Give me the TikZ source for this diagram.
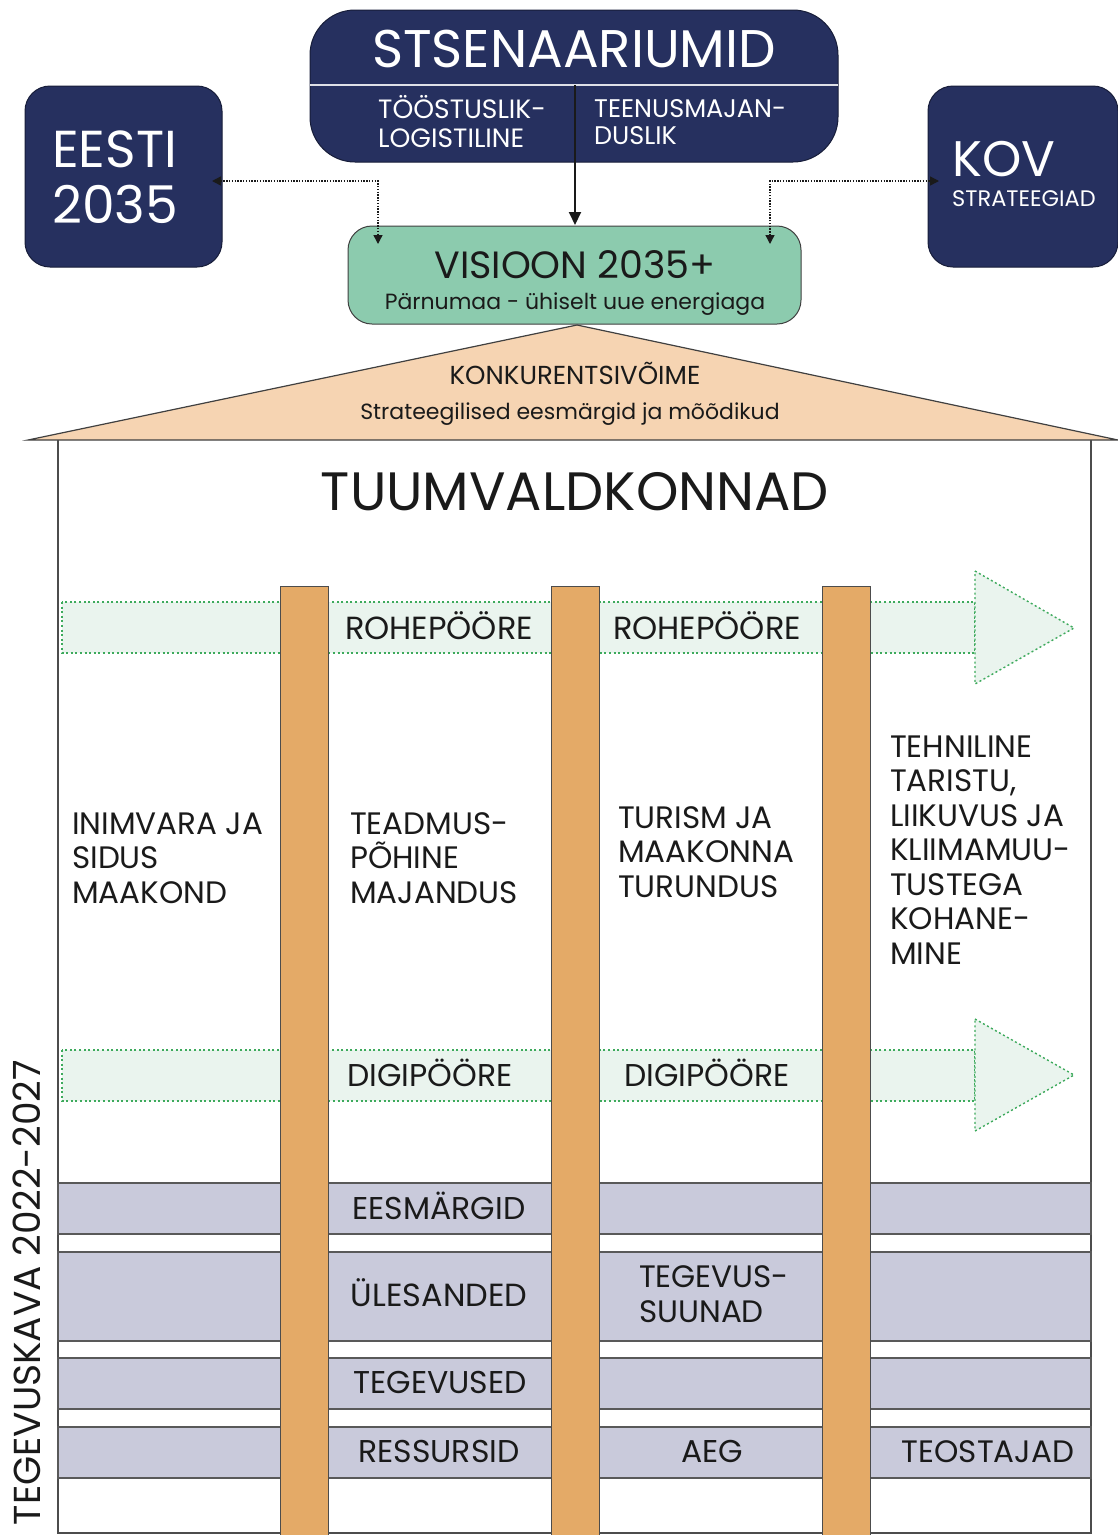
\documentclass[tikz,border=0pt]{standalone}
\usepackage{fontspec}
\setmainfont{Poppins}
\usetikzlibrary{arrows.meta}
\definecolor{navy}{HTML}{26305F}
\definecolor{visgreen}{HTML}{8CCBAE}
\definecolor{roofc}{HTML}{F6D4B2}
\definecolor{pillarc}{HTML}{E4AA67}
\definecolor{rowc}{HTML}{C9CADB}
\definecolor{bandc}{HTML}{EAF4EE}
\definecolor{dotg}{HTML}{3DAA5C}
\definecolor{ink}{HTML}{1A1A1A}
\newcommand\myFs[2]{\fontsize{#1}{#2}\selectfont}
\begin{document}
\begin{tikzpicture}[x=1pt,y=-1pt,
  navybox/.style={draw=navy!60!black, fill=navy, line width=1pt, outer sep=0pt, inner sep=0pt},
  visbox/.style={draw=black!75, fill=visgreen, line width=1pt, rounded corners=24pt, outer sep=0pt, inner sep=0pt},
  lbl/.style={inner sep=0pt, text=ink},
  wlbl/.style={inner sep=0pt, text=white},
  pillar/.style={draw=black!70, fill=pillarc, line width=1pt},
  band/.style={fill=bandc, draw=dotg, line width=1.4pt, dash pattern=on 2pt off 2.6pt},
  rowbox/.style={fill=rowc, draw=black!65, line width=1.3pt},
  frame/.style={draw=black!70, line width=1.3pt},
  dotarrow/.style={draw=ink, line width=1.4pt, dash pattern=on 1.4pt off 1.4pt,
     {Triangle[length=9pt,width=9pt]}-{Triangle[length=9pt,width=9pt]}},
  solidarrow/.style={draw=ink, line width=2pt, -{Triangle[length=13pt,width=12pt]}}
]
\useasboundingbox (0,0) rectangle (1118,1535);
\fill[white] (0,0) rectangle (1118,1535);

% ---------- top boxes ----------
\node[navybox, rounded corners=45pt, minimum width=528pt, minimum height=152pt] (sts) at (574,86) {};
\draw[draw=white!85!navy, line width=1.5pt] (sts.west |- 0,85) -- (sts.east |- 0,85);
\node[wlbl, anchor=base] (ststxt) at (574,67) {\myFs{53}{53}STSENAARIUMID};
\node[wlbl, anchor=base west] (s1) at (378,118) {\parbox[t]{200pt}{\myFs{26.5}{29}TÖÖSTUSLIK-\\LOGISTILINE}};
\node[wlbl, anchor=base west] (s2) at (594,117) {\parbox[t]{230pt}{\myFs{25.5}{27}TEENUSMAJAN-\\DUSLIK}};

\node[navybox, rounded corners=25pt, minimum width=197pt, minimum height=181pt] (eesti) at (123.5,176.5) {};
\node[wlbl, anchor=base west] (eestitxt) at (52,167) {\parbox[t]{170pt}{\myFs{52}{56}EESTI\\2035}};

\node[navybox, rounded corners=25pt, minimum width=190pt, minimum height=181pt] (kov) at (1023,176.5) {};
\node[wlbl, anchor=base west, text depth=0pt] (kovtxt) at (952,176) {\myFs{50}{50}KOV};
\node[wlbl, anchor=base west, text height=16pt] (kovsub) at (952,206) {\myFs{22.5}{22.5}STRATEEGIAD};

\node[visbox, minimum width=453pt, minimum height=98pt] (vis) at (574.5,275) {};
\node[lbl, anchor=base] (vistxt) at (575,278) {\myFs{38}{38}VISIOON 2035+};
\node[lbl, anchor=base] (vissub) at (575,309) {\myFs{22}{22}Pärnumaa - ühiselt uue energiaga};

% connectors
\coordinate (stsdiv) at (575,85);
\coordinate (vistop) at (575,225);
\draw[solidarrow] (stsdiv) -- (vistop);
\coordinate (lend) at (212,181);
\coordinate (ldown) at (378,244);
\draw[dotarrow] (lend) -- (378,181) -- (ldown);
\coordinate (rend) at (939,181);
\coordinate (rdown) at (770,244);
\draw[dotarrow] (rdown) -- (770,181) -- (rend);

% ---------- roof ----------
\coordinate (roofL) at (28,440);
\coordinate (roofT) at (577,325);
\coordinate (roofR) at (1118,440);
\draw[fill=roofc, draw=black!75, line width=1.2pt] (roofL) -- (roofT) -- (roofR) -- cycle;
\node[lbl, anchor=base] (konk) at (575,384) {\myFs{26}{26}KONKURENTSIVÕIME};
\node[lbl, anchor=base] (strat) at (570,419) {\myFs{22}{22}Strateegilised eesmärgid ja mõõdikud};

% ---------- frame ----------
\draw[frame] (58,440) -- (58,1533) -- (1091,1533) -- (1091,440);
\node[lbl, anchor=base] (tuum) at (575,510) {\myFs{54}{54}TUUMVALDKONNAD};

% ---------- bands ----------
\draw[band] (62,602) rectangle (975,653);
\draw[band] (975,571) -- (1074,628) -- (975,684) -- cycle;
\draw[band] (62,1050) rectangle (975,1101);
\draw[band] (975,1019) -- (1074,1075) -- (975,1131) -- cycle;

% ---------- rows ----------
\draw[rowbox] (58,1183) rectangle (1091,1234);
\draw[rowbox] (58,1252) rectangle (1091,1341);
\draw[rowbox] (58,1358) rectangle (1091,1409);
\draw[rowbox] (58,1427) rectangle (1091,1478);

% ---------- pillars ----------
\draw[pillar] (280,586) rectangle (328,1545);
\draw[pillar] (551,586) rectangle (599,1545);
\draw[pillar] (822,586) rectangle (870,1545);

% ---------- band texts ----------
\node[lbl, anchor=base] (r1) at (439,639) {\myFs{32}{32}ROHEPÖÖRE};
\node[lbl, anchor=base] (r2) at (707,639) {\myFs{32}{32}ROHEPÖÖRE};
\node[lbl, anchor=base] (d1) at (430,1086) {\myFs{31.5}{31.5}DIGIPÖÖRE};
\node[lbl, anchor=base] (d2) at (707,1086) {\myFs{31.5}{31.5}DIGIPÖÖRE};

% ---------- column texts ----------
\node[lbl, anchor=base west] (c1) at (72,834) {\parbox[t]{210pt}{\raggedright\myFs{31}{34.5}INIMVARA JA\\SIDUS\\MAAKOND}};
\node[lbl, anchor=base west] (c2) at (350,834) {\parbox[t]{210pt}{\raggedright\myFs{31}{34.5}TEADMUS-\\PÕHINE\\MAJANDUS}};
\node[lbl, anchor=base west] (c3) at (618,828) {\parbox[t]{210pt}{\raggedright\myFs{31}{34.5}TURISM JA\\MAAKONNA\\TURUNDUS}};
\node[lbl, anchor=base west] (c4) at (890,757) {\parbox[t]{210pt}{\raggedright\myFs{31}{34.5}TEHNILINE\\TARISTU,\\LIIKUVUS JA\\KLIIMAMUU-\\TUSTEGA\\KOHANE-\\MINE}};

% ---------- row texts ----------
\node[lbl, anchor=base] (e1) at (439,1219) {\myFs{31.5}{31.5}EESMÄRGID};
\node[lbl, anchor=base] (e2) at (439,1306) {\myFs{32}{32}ÜLESANDED};
\node[lbl, anchor=base west] (e3) at (639,1287) {\parbox[t]{200pt}{\raggedright\myFs{31}{35}TEGEVUS-\\SUUNAD}};
\node[lbl, anchor=base] (e4) at (440,1393) {\myFs{31.5}{31.5}TEGEVUSED};
\node[lbl, anchor=base] (e5) at (439,1462) {\myFs{31.5}{31.5}RESSURSID};
\node[lbl, anchor=base] (e6) at (712,1462) {\myFs{31.5}{31.5}AEG};
\node[lbl, anchor=base] (e7) at (988,1462) {\myFs{31}{31}TEOSTAJAD};

% ---------- vertical label ----------
\node[lbl, rotate=90, anchor=base east] (tk) at (40,1060) {\myFs{37.5}{37.5}TEGEVUSKAVA 2022-2027};
\end{tikzpicture}
\end{document}
